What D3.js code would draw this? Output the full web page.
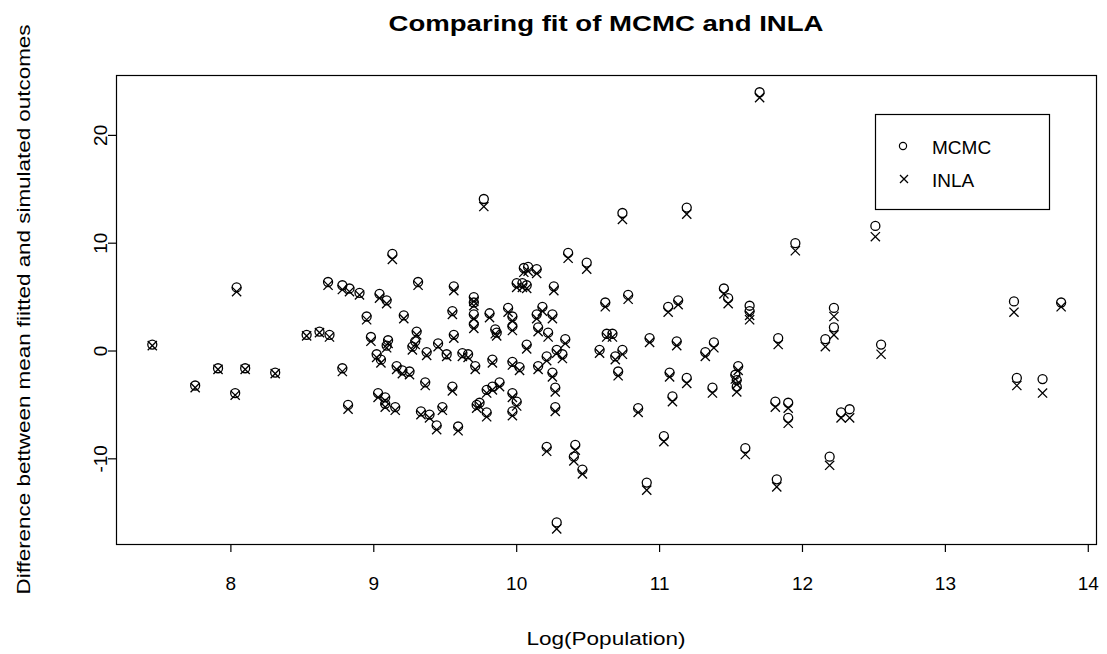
<!DOCTYPE html>
<html>
<head>
<meta charset="utf-8">
<script src="https://cdn.jsdelivr.net/npm/d3@7"></script>
<style>
  html, body { margin: 0; padding: 0; background: #fff; }
  svg { display: block; }
</style>
</head>
<body>
<div id="chart"></div>
<script>
// MCMC vs INLA: fitted minus simulated, against log population
const logPop = [
  7.45, 7.75, 7.91, 8.03, 8.04, 8.10, 8.31, 8.53, 8.62, 8.69,
  8.68, 8.78, 8.83, 8.90, 9.13, 9.31, 9.04, 9.09, 8.95, 9.21,
  9.56, 9.55, 9.30, 9.56, 8.98, 9.10, 9.09, 9.29, 9.27, 9.45,
  9.37, 9.51, 9.02, 9.05, 9.16, 9.20, 9.25, 8.78, 9.36, 9.55,
  9.03, 9.08, 9.08, 9.15, 8.82, 9.33, 9.39, 9.48, 9.44, 9.59,
  9.77, 10.05, 10.08, 10.14, 10.00, 10.04, 10.07, 10.26, 9.70, 9.70,
  9.81, 9.94, 10.18, 10.14, 10.25, 9.97, 9.70, 9.70, 9.85, 9.86,
  9.97, 10.15, 10.22, 10.07, 9.62, 9.66, 9.71, 9.83, 9.97, 10.02,
  10.15, 10.21, 10.25, 10.28, 9.88, 9.83, 9.79, 9.97, 9.72, 9.74,
  9.79, 9.97, 10.00, 10.27, 10.21, 10.74, 10.36, 10.49, 10.62, 10.78,
  11.06, 11.13, 10.34, 10.32, 10.27, 10.63, 10.67, 10.58, 10.69, 10.71,
  10.74, 10.93, 11.12, 11.07, 11.09, 10.85, 11.03, 10.41, 10.40, 10.46,
  10.91, 10.28, 11.19, 11.45, 11.48, 11.63, 11.63, 11.95, 11.38, 11.32,
  11.83, 11.55, 11.53, 11.54, 11.19, 11.37, 11.54, 11.81, 11.90, 11.90,
  11.60, 11.82, 12.51, 12.22, 12.22, 12.16, 12.55, 12.27, 12.33, 12.19,
  13.48, 13.81, 13.50, 13.68, 11.70
];
const mcmc = [
  0.6, -3.2, -1.6, -3.9, 5.9, -1.6, -2.0, 1.5, 1.8, 1.5,
  6.4, 6.1, 5.8, 5.4, 9.0, 6.4, 5.3, 4.7, 3.2, 3.3,
  6.0, 3.7, 1.8, 1.5, 1.3, 1.0, 0.5, 0.9, 0.4, 0.7,
  -0.1, -0.3, -0.3, -0.8, -1.4, -1.8, -1.9, -1.6, -2.9, -3.3,
  -3.9, -4.3, -4.9, -5.2, -5.0, -5.6, -5.9, -5.2, -6.9, -7.0,
  14.1, 7.7, 7.8, 7.6, 6.3, 6.3, 6.1, 6.0, 5.0, 4.5,
  3.5, 4.0, 4.1, 3.4, 3.4, 3.2, 3.4, 2.5, 2.0, 1.7,
  2.3, 2.2, 1.7, 0.6, -0.2, -0.3, -1.4, -0.8, -1.0, -1.5,
  -1.4, -0.5, -2.0, 0.1, -2.9, -3.3, -3.6, -3.9, -5.0, -4.8,
  -5.7, -5.6, -4.7, -5.2, -8.9, 12.8, 9.1, 8.2, 4.5, 5.2,
  4.1, 4.7, 1.1, -0.3, -3.4, 1.6, 1.6, 0.1, -0.5, -1.9,
  0.1, 1.2, 0.9, -2.0, -4.2, -5.3, -7.9, -8.7, -9.8, -11.0,
  -12.2, -15.9, 13.3, 5.8, 4.9, 4.2, 3.7, 10.0, 0.8, -0.1,
  1.2, -1.4, -2.2, -2.7, -2.5, -3.4, -3.3, -4.7, -4.8, -6.2,
  -9.0, -11.9, 11.6, 4.0, 2.2, 1.1, 0.6, -5.7, -5.4, -9.8,
  4.6, 4.5, -2.5, -2.6, 24.0
];
const inla = [
  0.5, -3.4, -1.7, -4.1, 5.5, -1.7, -2.1, 1.4, 1.7, 1.3,
  6.1, 5.7, 5.5, 5.2, 8.5, 6.1, 4.9, 4.4, 2.9, 3.0,
  5.6, 3.4, 1.5, 1.2, 0.9, 0.7, 0.3, 0.6, 0.1, 0.4,
  -0.4, -0.5, -0.6, -1.1, -1.7, -2.1, -2.2, -1.9, -3.2, -3.7,
  -4.3, -4.6, -5.2, -5.5, -5.4, -5.9, -6.2, -5.5, -7.3, -7.4,
  13.4, 7.3, 7.4, 7.2, 5.9, 5.9, 5.8, 5.6, 4.6, 4.2,
  3.1, 3.6, 3.7, 3.0, 3.0, 2.8, 3.0, 2.1, 1.6, 1.4,
  1.9, 1.8, 1.3, 0.2, -0.5, -0.6, -1.7, -1.1, -1.3, -1.8,
  -1.7, -0.9, -2.4, -0.2, -3.3, -3.6, -3.9, -4.3, -5.3, -5.1,
  -6.1, -6.0, -5.1, -5.6, -9.3, 12.2, 8.6, 7.6, 4.1, 4.8,
  3.6, 4.3, 0.7, -0.7, -3.8, 1.3, 1.3, -0.2, -0.8, -2.3,
  -0.3, 0.8, 0.5, -2.4, -4.7, -5.7, -8.4, -9.2, -10.2, -11.4,
  -12.9, -16.5, 12.7, 5.3, 4.4, 3.3, 2.9, 9.3, 0.3, -0.5,
  0.6, -1.8, -2.6, -3.1, -3.0, -3.9, -3.8, -5.2, -5.3, -6.7,
  -9.6, -12.6, 10.6, 3.2, 1.5, 0.4, -0.3, -6.2, -6.2, -10.6,
  3.6, 4.1, -3.2, -3.9, 23.5
];
const xTicks = [8, 9, 10, 11, 12, 13, 14];
const yTicks = [-10, 0, 10, 20];
const seriesNames = ["MCMC", "INLA"];

(() => {
  const W = 1107, H = 654;
  const ML = 116, MR = 11, TOP = 75, BOT = 110;
  const FONT = "'Liberation Sans', Arial, sans-serif";
  const INK = "#000";

  // R-style 4% padded ranges
  const x = d3.scaleLinear().domain([7.196, 14.054]).range([ML, W - MR]);
  const y = d3.scaleLinear().domain([-17.9, 25.6]).range([H - BOT, TOP]);

  const svg = d3.select("#chart").append("svg")
    .attr("width", W).attr("height", H)
    .attr("viewBox", `0 0 ${W} ${H}`);

  // plot box
  svg.append("rect")
    .attr("x", ML + 0.5).attr("y", TOP + 0.5)
    .attr("width", W - MR - ML).attr("height", H - BOT - TOP)
    .attr("fill", "none").attr("stroke", INK).attr("stroke-width", 1.2);

  // x axis ticks + labels
  xTicks.forEach(v => {
    svg.append("line").attr("x1", x(v)).attr("x2", x(v))
      .attr("y1", H - BOT).attr("y2", H - BOT + 8)
      .attr("stroke", INK).attr("stroke-width", 1.2);
    svg.append("text").attr("x", x(v)).attr("y", H - BOT + 46)
      .attr("text-anchor", "middle")
      .attr("style", `font:19px ${FONT};fill:${INK}`)
      .text(v);
  });
  // y axis ticks + rotated labels
  yTicks.forEach(v => {
    svg.append("line").attr("x1", ML - 8).attr("x2", ML)
      .attr("y1", y(v)).attr("y2", y(v))
      .attr("stroke", INK).attr("stroke-width", 1.2);
    svg.append("text")
      .attr("transform", `translate(${ML - 9},${y(v)}) rotate(-90)`)
      .attr("text-anchor", "middle")
      .attr("style", `font:19px ${FONT};fill:${INK}`)
      .text(v);
  });

  // titles
  svg.append("text").attr("x", (ML + W - MR) / 2).attr("y", 31)
    .attr("text-anchor", "middle")
    .attr("textLength", 435).attr("lengthAdjust", "spacingAndGlyphs")
    .attr("style", `font:bold 22px ${FONT};fill:${INK}`)
    .text("Comparing fit of MCMC and INLA");
  svg.append("text").attr("x", (ML + W - MR) / 2).attr("y", 645)
    .attr("text-anchor", "middle")
    .attr("textLength", 159).attr("lengthAdjust", "spacingAndGlyphs")
    .attr("style", `font:19px ${FONT};fill:${INK}`)
    .text("Log(Population)");
  svg.append("text")
    .attr("transform", `translate(30,${(TOP + H - BOT) / 2}) rotate(-90)`)
    .attr("text-anchor", "middle")
    .attr("textLength", 570).attr("lengthAdjust", "spacingAndGlyphs")
    .attr("style", `font:19px ${FONT};fill:${INK}`)
    .text("Difference bettween mean fiitted and simulated outcomes");

  // markers
  const cross = (g, cx, cy, s) => {
    g.append("path")
      .attr("d", `M${cx - s},${cy - s}L${cx + s},${cy + s}M${cx - s},${cy + s}L${cx + s},${cy - s}`)
      .attr("stroke", INK).attr("stroke-width", 1.3).attr("fill", "none");
  };
  const pts = svg.append("g");
  logPop.forEach((lp, i) => {
    pts.append("circle")
      .attr("cx", x(lp)).attr("cy", y(mcmc[i])).attr("r", 4.5)
      .attr("fill", "none").attr("stroke", INK).attr("stroke-width", 1.3);
    cross(pts, x(lp), y(inla[i]), 4.6);
  });

  // legend
  const lg = svg.append("g");
  lg.append("rect").attr("x", 875.5).attr("y", 114.5).attr("width", 174).attr("height", 95)
    .attr("fill", "#fff").attr("stroke", INK).attr("stroke-width", 1.2);
  lg.append("circle").attr("cx", 903).attr("cy", 146).attr("r", 3.6)
    .attr("fill", "none").attr("stroke", INK).attr("stroke-width", 1.2);
  cross(lg, 904, 179, 4);
  seriesNames.forEach((s, i) => {
    lg.append("text").attr("x", 932).attr("y", 154 + i * 33)
      .attr("style", `font:19px ${FONT};fill:${INK}`)
      .text(s);
  });
})();
</script>
</body>
</html>
